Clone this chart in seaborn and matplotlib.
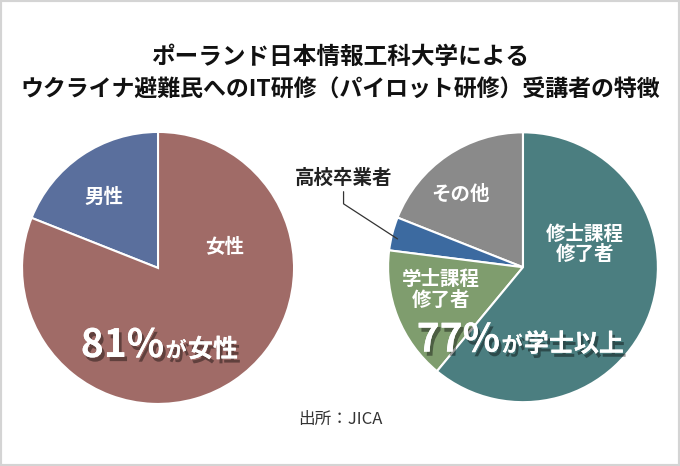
import seaborn as sns
import matplotlib.pyplot as plt
import matplotlib.patheffects as pe
from matplotlib.patches import Rectangle
from matplotlib.offsetbox import TextArea, HPacker, AnnotationBbox

# データ
gender_labels = ['男性', '女性']
gender_values = [19, 81]
gender_colors = ['#5a6f9d', '#a06b67']

edu_labels = ['その他', '高校卒業者', '学士課程\n修了者', '修士課程\n修了者']
edu_values = [19, 4, 16, 61]
edu_colors = ['#8a8a8a', '#3c6aa0', '#7f9d6e', '#4b7e80']

sns.set_theme(style='white')
plt.rcParams['font.family'] = ['Noto Sans CJK JP', 'DejaVu Sans']

fig = plt.figure(figsize=(6.8, 4.66), dpi=100)
fig.patch.set_facecolor('white')

ax1 = fig.add_axes([0.0324, 0.133, 0.4, 0.584])
ax2 = fig.add_axes([0.5706, 0.137, 0.397, 0.579])

wedge_kw = dict(edgecolor='white', linewidth=1.5)
ax1.pie(gender_values, colors=gender_colors, startangle=90, counterclock=True,
        wedgeprops=wedge_kw)
ax2.pie(edu_values, colors=edu_colors, startangle=90, counterclock=True,
        wedgeprops=wedge_kw)
for ax in (ax1, ax2):
    ax.set_xlim(-1, 1)
    ax.set_ylim(-1, 1)
    ax.set_aspect('equal')
    ax.axis('off')

lab = dict(color='white', fontsize=14, fontweight='bold', ha='center', va='center',
           linespacing=1.1)
ax1.text(-0.40, 0.52, gender_labels[0], **lab)
ax1.text(0.49, 0.15, gender_labels[1], **lab)

ax2.text(-0.46, 0.54, edu_labels[0], **lab)
ax2.text(0.46, 0.17, edu_labels[3], **lab)
ax2.text(-0.61, -0.17, edu_labels[2], **lab)
ax2.text(-1.33, 0.66, edu_labels[1], color='#222222', fontsize=14, fontweight='bold',
         ha='center', va='center')
ax2.plot([-1.33, -1.33, -0.93], [0.56, 0.47, 0.21], color='#333333', lw=0.9,
         clip_on=False)

shadow = [pe.withSimplePatchShadow(offset=(2, -3), shadow_rgbFace='black', alpha=0.4),
          pe.Normal()]


def big_label(ax, parts, xy):
    boxes = []
    for txt, size in parts:
        boxes.append(TextArea(txt, textprops=dict(color='white', fontsize=size,
                                                  fontweight='bold', path_effects=shadow)))
    pack = HPacker(children=boxes, align='baseline', pad=0, sep=1)
    ab = AnnotationBbox(pack, xy, xycoords='data', frameon=False,
                        box_alignment=(0.5, 0.5))
    ax.add_artist(ab)


big_label(ax1, [('81%', 28), ('が', 15), ('女性', 18)], (0.01, -0.57))
big_label(ax2, [('77%', 28), ('が', 15), ('学士以上', 18)], (-0.02, -0.54))

fig.text(0.5, 0.877, 'ポーランド日本情報工科大学による', ha='center', va='center',
         fontsize=17, fontweight='bold', color='#111111')
fig.text(0.5, 0.806, 'ウクライナ避難民へのIT研修（パイロット研修）受講者の特徴',
         ha='center', va='center', fontsize=16.5, fontweight='bold', color='#111111')
fig.text(0.5, 0.1, '出所：JICA', ha='center', va='center', fontsize=12,
         color='#333333')

fig.patches.append(Rectangle((0, 0), 1, 1, transform=fig.transFigure, fill=False,
                             edgecolor='#d4d4d4', linewidth=3))

fig.savefig('out.png', dpi=100)
